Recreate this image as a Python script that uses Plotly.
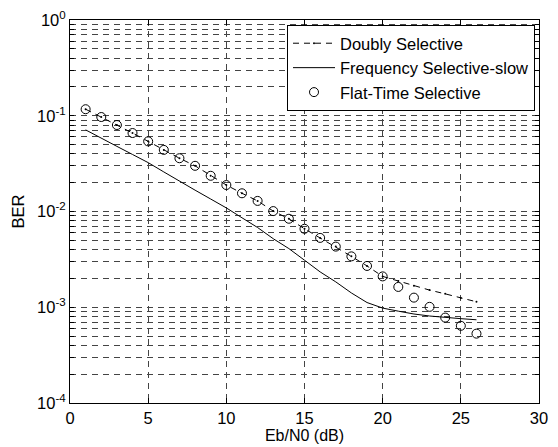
import plotly.graph_objects as go

snr = list(range(1, 27))

doubly = [0.117, 0.097, 0.080, 0.066, 0.054, 0.044, 0.036, 0.030, 0.0236, 0.0189,
          0.0155, 0.0129, 0.0101, 0.0084, 0.0066, 0.0053, 0.0043, 0.0034, 0.0027, 0.0021,
          0.00188, 0.00168, 0.00151, 0.00138, 0.00125, 0.00114]

freq_slow = [0.0712, 0.058, 0.0479, 0.0394, 0.0324, 0.0259, 0.0207, 0.0167, 0.0135, 0.0109,
             0.0086, 0.0068, 0.0052, 0.0041, 0.0031, 0.00234, 0.00184, 0.00141, 0.00112, 0.00098,
             0.00091, 0.00085, 0.00081, 0.00078, 0.00076, 0.00074]

flat_time = [0.117, 0.097, 0.080, 0.066, 0.054, 0.044, 0.036, 0.030, 0.0236, 0.0189,
             0.0155, 0.0129, 0.0101, 0.0084, 0.0066, 0.0053, 0.0043, 0.0034, 0.0027, 0.0021,
             0.00163, 0.00126, 0.00101, 0.00078, 0.00064, 0.00053]

x_ticks = [0, 5, 10, 15, 20, 25, 30]

y_tickvals = []
y_ticktext = []
for k in range(-4, 1):
    for m in range(1, 10):
        v = m * 10.0 ** k
        if v > 1.0001:
            break
        y_tickvals.append(v)
        y_ticktext.append(f"10<sup>{k}</sup>" if m == 1 else "")

fig = go.Figure()
fig.add_trace(go.Scatter(
    x=snr, y=doubly, name="Doubly Selective", mode="lines+markers",
    line=dict(color="black", width=1, dash="6px,5px"),
    marker=dict(symbol="circle", size=2, color="black"),
))
fig.add_trace(go.Scatter(
    x=snr, y=freq_slow, name="Frequency Selective-slow", mode="lines",
    line=dict(color="black", width=1),
))
fig.add_trace(go.Scatter(
    x=snr, y=flat_time, name="Flat-Time Selective", mode="markers",
    marker=dict(symbol="circle-open", size=9, color="black", line=dict(width=1, color="black")),
))

family = "Liberation Sans, Arial, Helvetica, sans-serif"
font = dict(family=family, size=16.5, color="black")

fig.update_layout(
    width=558, height=447,
    margin=dict(l=70, r=19, t=20, b=44),
    paper_bgcolor="white", plot_bgcolor="white",
    font=font,
    showlegend=True,
    legend=dict(
        x=0.9915, y=0.987, xanchor="right", yanchor="top",
        bgcolor="white", bordercolor="black", borderwidth=1,
        font=dict(family=family, size=16.5, color="black"),
        tracegroupgap=0, itemwidth=42,
    ),
    xaxis=dict(
        range=[0, 30], tickvals=x_ticks, ticktext=[str(v) for v in x_ticks],
        showline=True, linecolor="black", linewidth=1, mirror="ticks",
        ticks="inside", ticklen=5, tickcolor="black",
        showgrid=True, gridcolor="#444", griddash="6px,5px", gridwidth=1,
        zeroline=False, automargin=False,
        title=dict(text="Eb/N0 (dB)", font=dict(family=family, size=16, color="black"), standoff=4),
    ),
    yaxis=dict(
        type="log", range=[-4, 0],
        tickvals=y_tickvals, ticktext=y_ticktext,
        showline=True, linecolor="black", linewidth=1, mirror="ticks",
        ticks="inside", ticklen=4, tickcolor="black",
        showgrid=True, gridcolor="#444", griddash="6px,5px", gridwidth=1,
        zeroline=False, automargin=False,
        title=dict(text="BER", font=font, standoff=8),
    ),
)

fig.write_html(
    "out.html",
    config={"displayModeBar": False},
    post_script="document.body.style.margin='0';document.body.style.overflow='hidden';",
)
